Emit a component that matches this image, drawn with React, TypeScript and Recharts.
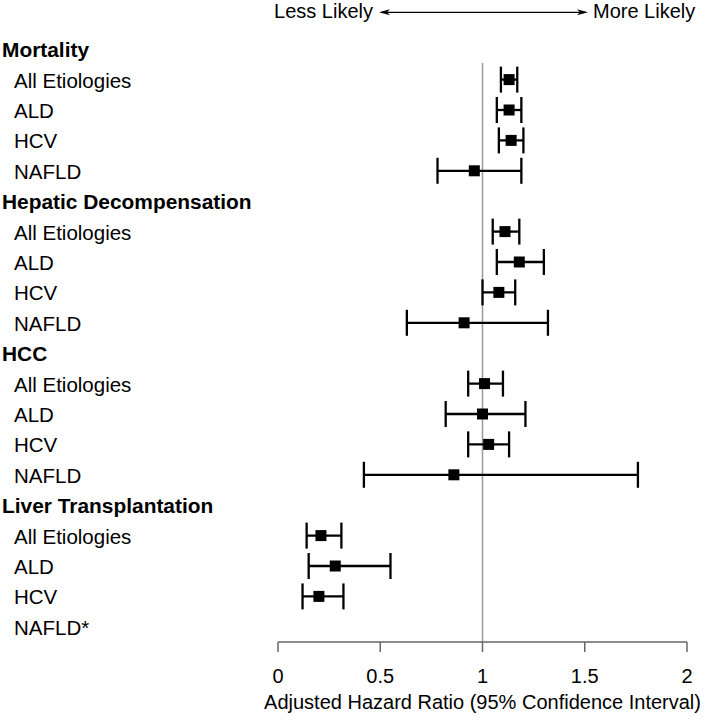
import React from 'react';
import {
  ScatterChart,
  Scatter,
  XAxis,
  YAxis,
  ErrorBar,
  ReferenceLine,
} from 'recharts';

const rowLabels = [
  'Mortality', 'All Etiologies', 'ALD', 'HCV', 'NAFLD',
  'Hepatic Decompensation', 'All Etiologies', 'ALD', 'HCV', 'NAFLD',
  'HCC', 'All Etiologies', 'ALD', 'HCV', 'NAFLD',
  'Liver Transplantation', 'All Etiologies', 'ALD', 'HCV', 'NAFLD*',
];
const headerRows = [0, 5, 10, 15];
const hazardRatio = [null, 1.13, 1.13, 1.14, 0.96, null, 1.11, 1.18, 1.08, 0.91, null, 1.01, 1.0, 1.03, 0.86, null, 0.21, 0.28, 0.2, null];
const lowerCI = [null, 1.09, 1.07, 1.08, 0.78, null, 1.05, 1.07, 1.0, 0.63, null, 0.93, 0.82, 0.93, 0.42, null, 0.14, 0.15, 0.12, null];
const upperCI = [null, 1.17, 1.19, 1.2, 1.19, null, 1.18, 1.3, 1.16, 1.32, null, 1.1, 1.21, 1.13, 1.76, null, 0.31, 0.55, 0.32, null];
const xTicks = [0, 0.5, 1, 1.5, 2];
const xTitle = 'Adjusted Hazard Ratio (95% Confidence Interval)';
const leftNote = 'Less Likely';
const rightNote = 'More Likely';

const FONT = '"Liberation Sans", Arial, Helvetica, sans-serif';

const data = hazardRatio
  .map((hr, i) =>
    hr === null
      ? null
      : { row: i, hr, err: [hr - (lowerCI[i] as number), (upperCI[i] as number) - hr] }
  )
  .filter(Boolean) as { row: number; hr: number; err: number[] }[];

const rowTicks = rowLabels.map((_, i) => i);

const RowTick = (props: any) => {
  const { y, payload } = props;
  const i = payload.value as number;
  const isHeader = headerRows.includes(i);
  return (
    <text
      x={isHeader ? 2 : 14}
      y={y}
      dy={8}
      textAnchor="start"
      fontFamily={FONT}
      fontSize={isHeader ? 20.9 : 20.5}
      fontWeight={isHeader ? 'bold' : 'normal'}
      fill="#000"
    >
      {rowLabels[i]}
    </text>
  );
};

const SquareShape = (props: any) => {
  const { cx, cy } = props;
  return <rect x={cx - 5.5} y={cy - 5.5} width={11} height={11} fill="#000" />;
};

export default function App() {
  return (
    <div style={{ position: 'absolute', left: 0, top: 0, width: 709, height: 724, background: '#fff' }}>
      <ScatterChart
        width={709}
        height={724}
        margin={{ top: 34, right: 22, bottom: 0, left: 0 }}
      >
        <XAxis
          type="number"
          dataKey="hr"
          domain={[0, 2]}
          ticks={xTicks}
          interval={0}
          height={82}
          tickSize={10}
          tickMargin={17}
          stroke="#666"
          strokeWidth={1.5}
          tick={{ fill: '#000', fontSize: 20, fontFamily: FONT }}
          label={{
            value: xTitle,
            position: 'insideBottom',
            offset: 15,
            fill: '#000',
            fontSize: 20,
            fontFamily: FONT,
          }}
        />
        <YAxis
          type="number"
          dataKey="row"
          domain={[-0.5, 19.5]}
          reversed
          ticks={rowTicks}
          interval={0}
          width={278}
          axisLine={false}
          tickLine={false}
          tick={<RowTick />}
        />
        <ReferenceLine
          segment={[{ x: 1, y: 0.45 }, { x: 1, y: 19.5 }]}
          stroke="#9a9a9a"
          strokeWidth={1.5}
        />
        <Scatter data={data} shape={<SquareShape />} isAnimationActive={false}>
          <ErrorBar dataKey="err" direction="x" width={13} stroke="#000" strokeWidth={2.3} />
        </Scatter>
      </ScatterChart>
      <svg
        width={709}
        height={30}
        style={{ position: 'absolute', left: 0, top: 0 }}
      >
        <text x={373} y={18.3} textAnchor="end" fontFamily={FONT} fontSize={20} fill="#000">
          {leftNote}
        </text>
        <line x1={382} y1={12.3} x2={585} y2={12.3} stroke="#000" strokeWidth={1.3} />
        <polygon points="379,12.3 390,9.3 387,12.3 390,15.3" fill="#000" />
        <polygon points="588,12.3 577,9.3 580,12.3 577,15.3" fill="#000" />
        <text x={593} y={18.3} textAnchor="start" fontFamily={FONT} fontSize={20} fill="#000">
          {rightNote}
        </text>
      </svg>
    </div>
  );
}
